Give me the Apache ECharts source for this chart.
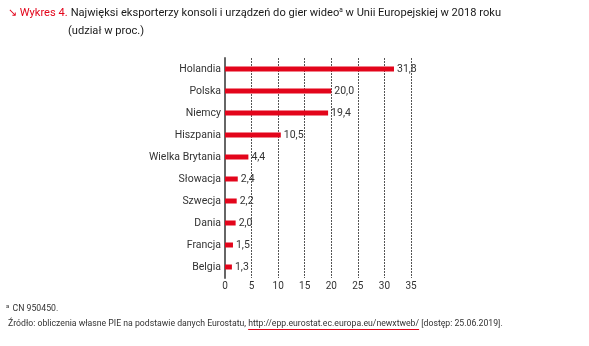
<!DOCTYPE html>
<html><head><meta charset="utf-8">
<script src="https://cdn.jsdelivr.net/npm/echarts@6/dist/echarts.min.js"></script>
<style>html,body{margin:0;padding:0;background:#fff}#c{width:589px;height:346px}</style>
</head><body><div id="c"></div>
<script>
const categories = ['Holandia','Polska','Niemcy','Hiszpania','Wielka Brytania','Słowacja','Szwecja','Dania','Francja','Belgia'];
const values = [31.8, 20.0, 19.4, 10.5, 4.4, 2.4, 2.2, 2.0, 1.5, 1.3];
const xTicks = [0,5,10,15,20,25,30,35];

const FONT = 'Roboto';
const chart = echarts.init(document.getElementById('c'));
const url = 'http://epp.eurostat.ec.europa.eu/newxtweb/';
const srcPre = 'Źródło: obliczenia własne PIE na podstawie danych Eurostatu, ';
const ctx = document.createElement('canvas').getContext('2d');
const SF = 8.7;
ctx.font = SF + 'px ' + FONT;
const preW = ctx.measureText(srcPre).width;
const urlW = ctx.measureText(url).width;
const srcX = 8;
const TF = 11.1;

chart.setOption({
  animation: false,
  grid: {left: 225, right: 178, top: 58, bottom: 68, containLabel: false},
  xAxis: {
    type: 'value', min: 0, max: 35, interval: 5,
    axisLine: {show: false}, axisTick: {show: false},
    splitLine: {show: true, lineStyle: {color: '#555', type: [2,1], width: 1}},
    axisLabel: {color: '#333', fontSize: 10, fontFamily: FONT, margin: 3,
      formatter: v => xTicks.includes(v) ? String(v) : ''}
  },
  yAxis: {
    type: 'category', inverse: true, data: categories,
    axisLine: {show: true, lineStyle: {color: '#666', width: 2}},
    axisTick: {show: false},
    axisLabel: {color: '#333', fontSize: 10.5, fontFamily: FONT, margin: 4}
  },
  series: [{
    type: 'bar', data: values, barWidth: 5,
    itemStyle: {color: '#e3051b'},
    label: {show: true, position: 'right', distance: 3, color: '#333', fontSize: 10.5, fontFamily: FONT,
      formatter: p => p.value.toFixed(1).replace('.', ',')}
  }],
  graphic: [
    {type: 'text', left: 8, top: 7, style: {
      text: '{r|↘ Wykres 4.}{b|Najwięksi eksporterzy konsoli i urządzeń do gier wideo}{s|a}{b| w Unii Europejskiej w 2018 roku}',
      rich: {
        r: {fill: '#e3051b', fontSize: TF, fontFamily: FONT, padding: [0,3,0,0]},
        b: {fill: '#1a1a1a', fontSize: TF, fontFamily: FONT},
        s: {fill: '#1a1a1a', fontSize: 6.5, fontFamily: FONT, verticalAlign: 'top', padding: [0,0,5,0]}
      }}},
    {type: 'text', left: 68, top: 26, style: {text: '(udział w proc.)', fill: '#1a1a1a', fontSize: TF, fontFamily: FONT}},
    {type: 'text', left: 6, top: 303, style: {
      text: '{s|a} {t|CN 950450.}',
      rich: {s: {fontSize: 6, fill: '#333', fontFamily: FONT, verticalAlign: 'top'}, t: {fontSize: SF, fill: '#333', fontFamily: FONT}}}},
    {type: 'text', left: srcX, top: 319, style: {
      text: srcPre + url + ' [dostęp: 25.06.2019].', fill: '#333', fontSize: SF, fontFamily: FONT}},
    {type: 'line', shape: {x1: srcX + preW, y1: 329.5, x2: srcX + preW + urlW, y2: 329.5}, style: {stroke: '#e3051b', lineWidth: 1}}
  ]
});
</script></body></html>
